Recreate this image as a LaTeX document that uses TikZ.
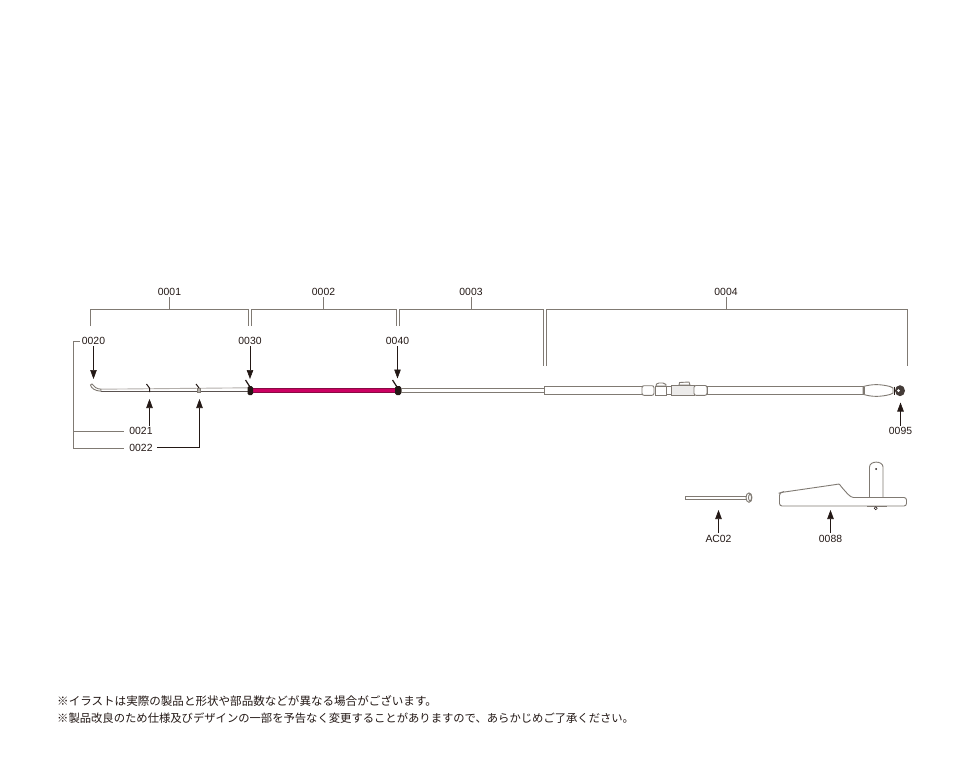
\documentclass[tikz,border=0pt]{standalone}
\usepackage{fontspec}
\setmainfont{Liberation Sans}
\newfontfamily\jpfont{Noto Sans CJK JP}
\usetikzlibrary{arrows.meta}
\definecolor{trait}{HTML}{807A73}
\definecolor{encre}{HTML}{231815}
\definecolor{scion}{HTML}{CC0062}
\begin{document}
\begin{tikzpicture}[x=1pt,y=-1pt]
\tikzstyle{lien}=[draw=trait,line width=1pt]
\tikzstyle{fleche}=[draw=encre,line width=0.6pt,-{Triangle[length=9pt,width=6.5pt]}]
\tikzstyle{piece}=[draw=trait,line width=0.9pt,fill=white]
\tikzset{repere/.style={text=encre,font=\fontsize{10.4}{12}\selectfont,inner sep=1.5pt},
note/.style={text=encre,anchor=west,inner sep=0pt,font=\jpfont\selectfont}}
\useasboundingbox[fill=white] (0,0) rectangle (963,781);

% reperes
\node[repere] (R0001) at (169.5,292) {0001};
\node[repere] (R0002) at (323.5,292) {0002};
\node[repere] (R0003) at (471,292) {0003};
\node[repere] (R0004) at (726,292) {0004};
\node[repere] (R0020) at (93.5,341) {0020};
\node[repere] (R0030) at (250,341) {0030};
\node[repere] (R0040) at (397.5,341) {0040};
\node[repere] (R0021) at (141,431) {0021};
\node[repere] (R0022) at (141,448) {0022};
\node[repere] (R0095) at (900.5,431) {0095};
\node[repere] (RAC02) at (718.5,538.5) {AC02};
\node[repere] (R0088) at (830.5,538.5) {0088};

% accolades
\coordinate (A1g) at (90.5,326);
\coordinate (A1d) at (248.5,326);
\coordinate (A2g) at (251.5,326);
\coordinate (A2d) at (396.8,326);
\coordinate (A3g) at (399.2,326);
\coordinate (A3d) at (543.8,366);
\coordinate (A4g) at (546,366);
\coordinate (A4d) at (907,366);
\draw[lien] (A1g) |- (169.5,309.5) -| (A1d);
\draw[lien] (A2g) |- (323.5,309.5) -| (A2d);
\draw[lien] (A3g) |- (471,309.5) -| (A3d);
\draw[lien] (A4g) |- (726,309.5) -| (A4d);
\draw[lien] (R0001) -- (R0001 |- 0,309.5);
\draw[lien] (R0002) -- (R0002 |- 0,309.5);
\draw[lien] (R0003) -- (R0003 |- 0,309.5);
\draw[lien] (R0004) -- (R0004 |- 0,309.5);

% canne
\draw[piece,draw=trait!60] (101,389.2) -- (248,387.8);
\draw[line width=0.9pt,draw=encre!75] (101,391.2) -- (248,391.2);
\draw[piece] (90.5,385) .. controls (91,388) and (95,391) .. (101,391.2) -- (101,389.2) .. controls (97,389) and (94,387) .. (92,384) -- cycle;
\draw[line width=1pt,draw=encre] (146.5,384) -- (149.5,388) -- (149.5,392);
\draw[line width=1pt,draw=encre] (196,384) -- (199,388);
\draw[piece,fill=trait!60] (197.5,388) rectangle (200.5,392);
\fill[scion] (252,388) rectangle (396,392.5);
\draw[line width=0.5pt,draw=encre!40!scion] (252,388) -- (396,388) (252,392.5) -- (396,392.5);
\draw[line width=1.2pt,draw=encre] (245.5,380) -- (250,387);
\fill[encre,rounded corners=1.5pt] (247.5,386) rectangle (253,395);
\draw[line width=1.2pt,draw=encre] (392.5,380) -- (397,387);
\fill[encre,rounded corners=1.5pt] (395,386) rectangle (401,395);
\draw[piece] (401,388.7) rectangle (544,392);
\draw[piece] (544.5,386.6) rectangle (642,394.3);

% porte-moulinet
\draw[piece,rounded corners=2pt] (642,385.7) rectangle (654,395.3);
\draw[piece] (656,386) -- (656.5,384) -- (659,383) -- (663,383) -- (666,384.5) -- (666,386) -- cycle;
\draw[piece] (655,386) rectangle (666.5,395.3);
\draw[piece] (666.5,386.6) rectangle (671.5,394.3);
\draw[piece] (679,385) -- (679.5,382.5) -- (689,382) -- (690,385) -- cycle;
\draw[piece,fill=trait!15] (671.5,385) rectangle (694,395.3);
\draw[piece,rounded corners=2pt] (694,385.5) rectangle (707,395.3);
\draw[piece] (707,386.6) rectangle (863,394.3);

% poignee
\draw[piece] (863,386.6) .. controls (872,384) and (880,384) .. (890,386.5) -- (893,388) -- (893,393) -- (890,394.5) .. controls (880,397) and (872,397) .. (863,394.3) -- cycle;
\draw[line width=1.2pt,draw=trait] (864,386.6) -- (864,394.3);
\fill[encre!85] (900,390.7) ellipse (5pt and 5.5pt);
\fill[white] (898.5,390.7) circle (1.5pt);
\draw[draw=encre,line width=0.4pt] (894.5,386.5) -- (894.5,395);

% piece AC02
\draw[piece] (685.5,496.7) rectangle (746,499);
\draw[piece] (749,497.6) ellipse (3pt and 4.7pt);
\draw[piece] (750,497.6) ellipse (1.5pt and 3.3pt);

% piece 0088
\draw[piece] (869.5,497) -- (869.5,467) .. controls (869.5,460.5) and (883,460.5) .. (883,467) -- (883,497);
\fill[encre] (876,469) circle (1pt);
\draw[piece,rounded corners=2.5pt] (779.5,500) -- (779.5,493) -- (781,492.5) -- (836,484.5) .. controls (839,484) and (840,485) .. (841,486.5) .. controls (846,492) and (850,497.5) .. (856,497.5) -- (906.5,497.5) -- (906.5,506) -- (779.5,506) -- cycle;
\draw[line width=0.8pt,draw=trait] (867,506.8) -- (887,506.8);
\draw[line width=0.5pt,draw=encre,fill=white] (875.7,508.3) circle (1.5pt);

% fleches
\coordinate (P0020) at (93.5,379);
\coordinate (P0021) at (149.5,399);
\coordinate (P0022) at (199.5,399);
\coordinate (P0030) at (250,379);
\coordinate (P0040) at (397.5,378.5);
\coordinate (P0095) at (900.5,402.5);
\coordinate (PAC02) at (718.5,510);
\coordinate (P0088) at (830.5,510);
\draw[fleche] (R0020) -- (P0020);
\draw[fleche] (R0030) -- (P0030);
\draw[fleche] (R0040) -- (P0040);
\draw[fleche] (R0021.north -| P0021) -- (P0021);
\draw[fleche] (R0095) -- (P0095);
\draw[fleche] (RAC02) -- (PAC02);
\draw[fleche] (R0088) -- (P0088);
\draw[fleche] (R0022.east) ++(3,-0.5) -| (P0022);

% renvois
\coordinate (C0) at (73.5,341);
\draw[lien] (R0020.west) -- (C0) |- ([xshift=-4pt]R0022.west);
\draw[lien] (C0 |- R0021) -- ([xshift=-4pt]R0021.west);

% notes
\node[note] (N1) at (57,701) {\fontsize{11.55}{13}\selectfont ※イラストは実際の製品と形状や部品数などが異なる場合がございます。};
\node[note] (N2) at (57,718) {\fontsize{11.32}{13}\selectfont ※製品改良のため仕様及びデザインの一部を予告なく変更することがありますので、あらかじめご了承ください。};
\end{tikzpicture}
\end{document}
